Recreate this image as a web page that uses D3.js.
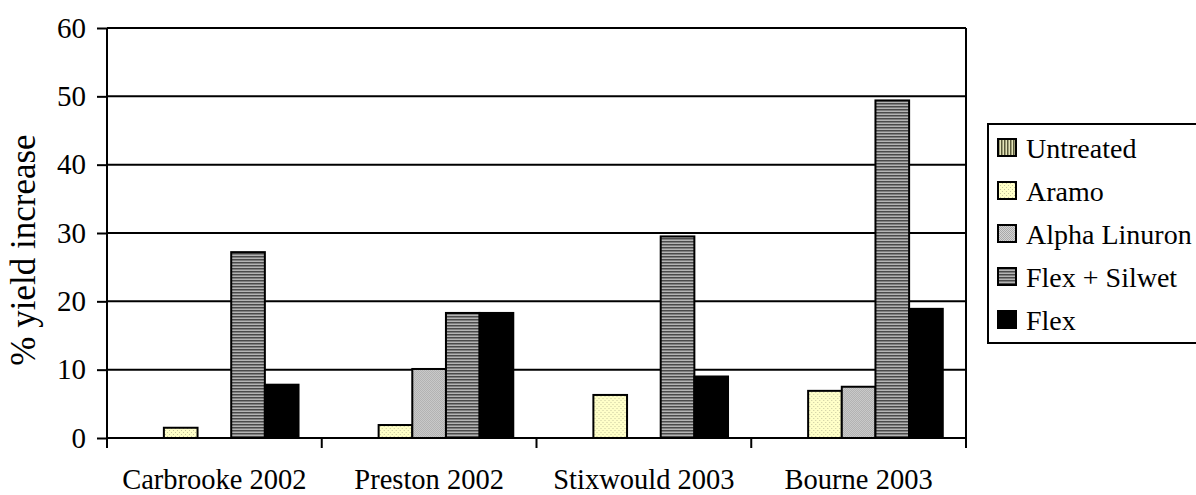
<!DOCTYPE html>
<html lang="en">
<head>
    <meta charset="UTF-8">
    <title>% yield increase</title>
    <script src="https://cdn.jsdelivr.net/npm/d3@7/dist/d3.min.js"></script>
    <style>
        body { margin: 0; background: #fff; }
        svg text { font-family: "Times New Roman", "Liberation Serif", "DejaVu Serif", serif !important; fill: #000; }
    </style>
</head>
<body>
    <div id="chart"></div>
    <script>
        // Data
        const sites = ["Carbrooke 2002", "Preston 2002", "Stixwould 2003", "Bourne 2003"];
        const treatments = ["Untreated", "Aramo", "Alpha Linuron", "Flex + Silwet", "Flex"];
        const untreated = [0, 0, 0, 0];
        const aramo = [1.5, 1.9, 6.3, 6.9];
        const alphaLinuron = [0, 10.1, 0, 7.5];
        const flexSilwet = [27.2, 18.3, 29.5, 49.4];
        const flex = [7.8, 18.3, 9.0, 18.9];
        const yTicks = [0, 10, 20, 30, 40, 50, 60];

        const seriesValues = [untreated, aramo, alphaLinuron, flexSilwet, flex];
        const fills = ["url(#pUntreated)", "url(#pAramo)", "url(#pAlpha)", "url(#pFlexSilwet)", "#000"];

        const margin = { top: 28, right: 230, bottom: 57, left: 107 };
        const W = 1196, H = 495;
        const width = W - margin.left - margin.right;
        const height = H - margin.top - margin.bottom;

        const svgRoot = d3.select("#chart").append("svg")
            .attr("width", W)
            .attr("height", H);

        // patterns mimicking the Excel fills
        const defs = svgRoot.append("defs");
        const pU = defs.append("pattern").attr("id", "pUntreated")
            .attr("patternUnits", "userSpaceOnUse").attr("width", 3).attr("height", 3);
        pU.append("rect").attr("width", 3).attr("height", 3).attr("fill", "#e4e4b8");
        pU.append("rect").attr("width", 1.5).attr("height", 3).attr("fill", "#5a5a3a");

        const pA = defs.append("pattern").attr("id", "pAramo")
            .attr("patternUnits", "userSpaceOnUse").attr("width", 4).attr("height", 4);
        pA.append("rect").attr("width", 4).attr("height", 4).attr("fill", "#ffffc8");
        pA.append("rect").attr("width", 1).attr("height", 1).attr("fill", "#c8c8a0");
        pA.append("rect").attr("x", 2).attr("y", 2).attr("width", 1).attr("height", 1).attr("fill", "#c8c8a0");

        const pL = defs.append("pattern").attr("id", "pAlpha")
            .attr("patternUnits", "userSpaceOnUse").attr("width", 2).attr("height", 2);
        pL.append("rect").attr("width", 2).attr("height", 2).attr("fill", "#d4d4d4");
        pL.append("rect").attr("width", 1).attr("height", 1).attr("fill", "#a8a8a8");
        pL.append("rect").attr("x", 1).attr("y", 1).attr("width", 1).attr("height", 1).attr("fill", "#a8a8a8");

        const pF = defs.append("pattern").attr("id", "pFlexSilwet")
            .attr("patternUnits", "userSpaceOnUse").attr("width", 3).attr("height", 3);
        pF.append("rect").attr("width", 3).attr("height", 3).attr("fill", "#b4b4b4");
        pF.append("rect").attr("width", 3).attr("height", 1.5).attr("fill", "#4a4a4a");

        const svg = svgRoot.append("g")
            .attr("transform", `translate(${margin.left},${margin.top})`);

        const x = d3.scaleBand().domain(sites).range([0, width]).padding(0);
        const xInner = d3.scaleBand().domain(treatments)
            .range([0, x.bandwidth()]).paddingInner(0).paddingOuter(0.69);
        const y = d3.scaleLinear().domain([0, 60]).range([height, 0]);

        // gridlines
        svg.append("g")
            .selectAll("line")
            .data(yTicks.filter(d => d > 0))
            .join("line")
            .attr("x1", 0).attr("x2", width)
            .attr("y1", d => y(d)).attr("y2", d => y(d))
            .attr("stroke", "#000").attr("stroke-width", 2);

        // plot border right side
        svg.append("line")
            .attr("x1", width).attr("x2", width)
            .attr("y1", 0).attr("y2", height)
            .attr("stroke", "#000").attr("stroke-width", 2);

        // bars
        const groups = svg.append("g")
            .selectAll("g")
            .data(sites)
            .join("g")
            .attr("transform", d => `translate(${x(d)},0)`);

        groups.selectAll("rect")
            .data((site, i) => treatments.map((t, k) => ({ t, k, v: seriesValues[k][i] })))
            .join("rect")
            .filter(d => d.v > 0)
            .attr("x", d => xInner(d.t))
            .attr("y", d => y(d.v))
            .attr("width", xInner.bandwidth())
            .attr("height", d => y(0) - y(d.v))
            .attr("fill", d => fills[d.k])
            .attr("stroke", "#000")
            .attr("stroke-width", 2);

        // axes
        const yAxis = svg.append("g")
            .call(d3.axisLeft(y).tickValues(yTicks).tickSize(10).tickPadding(11));
        yAxis.attr("font-family", null);
        yAxis.selectAll("path, line").attr("stroke", "#000").attr("stroke-width", 2);
        yAxis.select(".domain").attr("d", `M0,${height + 10}V0`);
        yAxis.selectAll("text").style("font-size", "29px");

        const xAxis = svg.append("g")
            .attr("transform", `translate(0,${height})`)
            .call(d3.axisBottom(x).tickSize(0).tickPadding(31));
        xAxis.attr("font-family", null);
        xAxis.select(".domain").attr("stroke", "#000").attr("stroke-width", 2).attr("d", `M0,0H${width}`);
        xAxis.selectAll("text").style("font-size", "28.5px");

        // category separator ticks
        svg.append("g")
            .selectAll("line")
            .data(sites.slice(1).concat(["end"]))
            .join("line")
            .attr("x1", d => d === "end" ? width : x(d))
            .attr("x2", d => d === "end" ? width : x(d))
            .attr("y1", height).attr("y2", height + 10)
            .attr("stroke", "#000").attr("stroke-width", 2);

        // top border
        svg.append("line")
            .attr("x1", 0).attr("x2", width)
            .attr("y1", 0).attr("y2", 0)
            .attr("stroke", "#000").attr("stroke-width", 2);

        // y label
        svg.append("text")
            .attr("transform", `translate(${-72},${height / 2 + 17}) rotate(-90)`)
            .attr("text-anchor", "middle")
            .style("font-size", "35px")
            .text("% yield increase");

        // legend
        const legend = svgRoot.append("g").attr("transform", "translate(988,124)");
        legend.append("rect")
            .attr("width", 215).attr("height", 219)
            .attr("fill", "#fff").attr("stroke", "#000").attr("stroke-width", 2);
        const items = legend.selectAll("g.item")
            .data(treatments)
            .join("g")
            .attr("class", "item")
            .attr("transform", (d, i) => `translate(10,${24 + i * 43})`);
        items.append("rect")
            .attr("y", -9).attr("width", 18).attr("height", 17)
            .attr("fill", (d, i) => fills[i])
            .attr("stroke", "#000").attr("stroke-width", 2);
        items.append("text")
            .attr("x", 28).attr("y", 0).attr("dy", "0.35em")
            .style("font-size", "28px")
            .text(d => d);
    </script>
</body>
</html>
